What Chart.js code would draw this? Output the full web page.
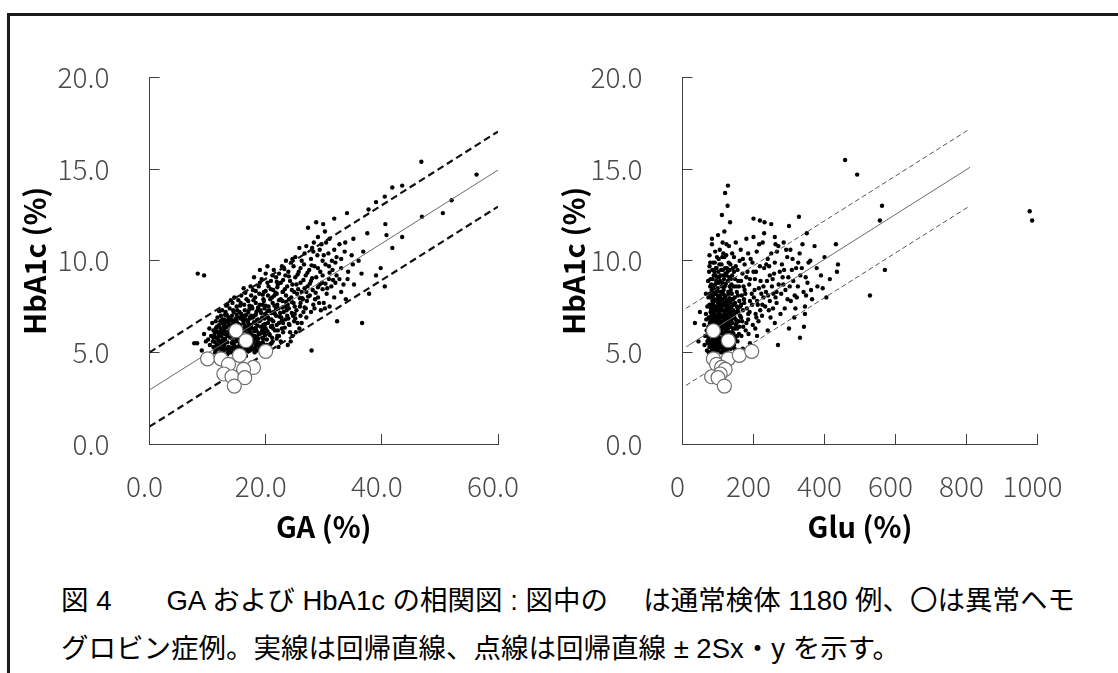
<!DOCTYPE html>
<html>
<head>
<meta charset="utf-8">
<script src="https://cdn.jsdelivr.net/npm/chart.js@4.4.1/dist/chart.umd.min.js"></script>
<style>
    body {
        margin: 0;
        width: 1118px;
        height: 673px;
        background: #fff;
        overflow: hidden;
        position: relative;
        font-family: "Liberation Sans", "Noto Sans CJK JP", sans-serif;
    }
    .frame {
        position: absolute;
        left: 7px;
        top: 13px;
        width: 1130px;
        height: 680px;
        border-top: 3px solid #1a1a1a;
        border-left: 3px solid #1a1a1a;
    }
    .chart-box {
        position: absolute;
        top: 0;
        height: 560px;
    }
    #leftBox { left: 0; width: 560px; }
    #rightBox { left: 530px; width: 588px; }
    .caption {
        position: absolute;
        left: 61px;
        font-size: 27.5px;
        line-height: 1;
        color: #000;
        white-space: pre;
    }
</style>
</head>
<body>
<div class="frame"></div>
<div class="chart-box" id="leftBox"><canvas id="gaChart"></canvas></div>
<div class="chart-box" id="rightBox"><canvas id="gluChart"></canvas></div>
<div class="caption" style="top:587px;">図 4　　GA および HbA1c の相関図 : 図中の　 は通常検体 1180 例、〇は異常ヘモ</div>
<div class="caption" style="top:635px;">グロビン症例。実線は回帰直線、点線は回帰直線 ± 2Sx・y を示す。</div>

<script>
// normal samples: [GA, HbA1c]
const normalGA = [
    [11.3,5.0],[12.1,4.9],[12.8,5.1],[13.4,4.9],[14.0,5.0],[14.7,5.1],[15.3,4.9],[16.0,5.0],[16.6,4.8],[17.3,5.1],[18.1,5.0],[19.0,5.2],[20.4,5.1],[22.2,5.3],[27.9,5.1],
    [10.4,5.4],[11.0,5.3],[11.7,5.4],[12.3,5.2],[12.9,5.4],[13.6,5.3],[14.2,5.5],[14.9,5.3],[15.5,5.4],[16.2,5.3],[16.9,5.5],[17.6,5.4],[18.3,5.3],[19.1,5.5],[19.8,5.4],[21.0,5.5],[23.8,5.4],
    [10.1,5.7],[10.9,5.6],[11.5,5.8],[12.1,5.6],[12.6,5.7],[13.2,5.6],[13.9,5.8],[14.5,5.6],[15.1,5.7],[15.8,5.6],[16.5,5.8],[17.1,5.6],[17.8,5.7],[18.6,5.6],[19.4,5.8],[20.2,5.7],[21.1,5.8],[22.0,5.9],[24.6,5.9],
    [9.4,6.0],[10.6,5.9],[11.2,6.0],[11.8,6.1],[12.4,5.9],[13.0,6.0],[13.6,6.1],[14.3,5.9],[14.9,6.0],[15.5,6.1],[16.1,5.9],[16.8,6.0],[17.4,6.1],[18.1,5.9],[18.9,6.0],[19.7,6.1],[20.6,6.0],[21.6,6.2],[23.0,6.1],[25.8,6.3],
    [10.3,6.3],[11.0,6.2],[11.6,6.4],[12.2,6.3],[12.8,6.2],[13.3,6.4],[14.0,6.3],[14.6,6.2],[15.2,6.4],[15.9,6.3],[16.4,6.2],[17.0,6.4],[17.7,6.3],[18.4,6.2],[19.2,6.4],[20.0,6.3],[20.9,6.4],[21.9,6.5],[22.8,6.3],[24.1,6.5],
    [10.8,6.6],[11.4,6.7],[12.0,6.5],[12.6,6.6],[13.2,6.7],[13.8,6.5],[14.4,6.6],[15.0,6.7],[15.6,6.5],[16.2,6.6],[16.9,6.7],[17.5,6.5],[18.2,6.6],[18.9,6.7],[19.6,6.5],[20.4,6.6],[21.3,6.7],[22.3,6.6],[23.4,6.8],[24.9,6.7],[26.2,6.6],[32.3,6.7],[36.6,6.6],
    [11.7,6.9],[12.3,7.0],[12.9,6.8],[13.6,6.9],[14.2,7.0],[14.8,6.8],[15.4,6.9],[16.0,7.0],[16.6,6.8],[17.3,6.9],[18.0,7.0],[18.7,6.8],[19.4,6.9],[20.2,7.0],[21.0,6.8],[21.8,7.0],[22.7,6.9],[23.7,7.0],[25.0,7.1],[27.0,6.9],
    [12.5,7.3],[13.1,7.2],[13.8,7.4],[14.5,7.2],[15.1,7.3],[15.8,7.1],[16.4,7.3],[17.0,7.2],[17.7,7.4],[18.4,7.2],[19.1,7.3],[19.9,7.1],[20.6,7.3],[21.4,7.2],[22.2,7.4],[23.1,7.2],[24.0,7.4],[25.3,7.3],[26.5,7.2],[28.4,7.4],[31.0,7.5],
    [13.4,7.6],[14.3,7.7],[15.0,7.5],[15.7,7.7],[16.3,7.6],[17.0,7.8],[17.6,7.5],[18.3,7.7],[19.0,7.6],[19.7,7.8],[20.5,7.5],[21.2,7.7],[22.0,7.6],[22.9,7.8],[23.8,7.6],[24.8,7.7],[25.9,7.5],[27.1,7.8],[29.2,7.7],
    [14.6,8.0],[15.8,8.1],[16.7,7.9],[17.5,8.1],[18.2,8.0],[18.9,8.2],[19.6,7.9],[20.4,8.1],[21.1,8.0],[21.9,8.2],[22.6,7.9],[23.5,8.1],[24.4,8.0],[25.4,8.2],[26.4,7.9],[27.6,8.1],[29.0,8.0],[30.5,8.2],[33.8,7.9],[37.8,8.2],
    [16.2,8.5],[17.8,8.4],[18.8,8.6],[19.7,8.3],[20.5,8.6],[21.3,8.4],[22.1,8.7],[22.9,8.3],[23.7,8.6],[24.5,8.4],[25.3,8.7],[26.2,8.3],[27.2,8.6],[28.1,8.4],[29.3,8.7],[30.6,8.5],[32.0,8.8],[35.2,8.7],[40.5,8.6],
    [19.3,9.0],[20.9,8.9],[21.8,9.1],[22.6,8.8],[23.4,9.2],[24.2,8.9],[25.1,9.1],[26.0,8.8],[26.9,9.2],[27.8,8.9],[28.7,9.1],[29.7,8.8],[30.9,9.0],[32.2,9.2],[34.1,9.0],[39.0,9.2],[20.0,9.3],
    [8.3,9.3],[9.4,9.2],[21.4,9.5],[22.8,9.7],[23.9,9.4],[24.8,9.7],[25.7,9.4],[26.6,9.8],[27.5,9.5],[28.4,9.7],[29.4,9.4],[30.3,9.8],[31.5,9.5],[33.0,9.6],[35.0,9.8],[36.5,9.3],
    [23.5,10.0],[25.1,10.2],[26.7,10.4],[27.8,10.1],[28.9,10.3],[29.8,10.0],[30.8,10.4],[32.2,10.2],[33.6,10.5],[36.8,10.5],[41.8,10.7],
    [27.0,10.8],[28.3,11.0],[29.6,10.9],[31.0,11.2],[32.7,10.9],[35.1,11.2],[37.5,11.5],[43.5,11.3],[40.8,11.4],[39.8,9.6],
    [27.3,11.8],[28.7,12.1],[29.9,12.0],[30.2,11.6],[31.8,12.3],[34.0,12.6],[37.7,12.8],[39.0,13.2],[40.6,12.0],[40.5,13.5],[41.8,14.0],[43.5,14.1],[46.8,15.4],[46.9,12.4],[50.5,12.6],[52.0,13.3],[56.3,14.7],
    [8.2,5.5],[9.0,5.1],[7.7,5.5],[9.7,5.6],
    [11.6,5.15],[12.6,5.05],[13.7,5.15],[14.8,5.05],[15.9,5.15],[17.0,5.05],[18.0,5.2],
    [11.3,5.55],[12.3,5.45],[13.4,5.55],[14.5,5.45],[15.6,5.55],[16.7,5.45],[17.8,5.55],[18.9,5.45],
    [11.9,5.85],[13.0,5.75],[14.1,5.85],[15.2,5.75],[16.3,5.85],[17.4,5.75],[18.5,5.85],[19.6,5.75],
    [11.5,6.15],[12.6,6.05],[13.7,6.15],[14.8,6.05],[15.9,6.15],[17.0,6.05],[18.1,6.15],[19.2,6.05],[20.3,6.15],
    [12.0,6.45],[13.1,6.35],[14.2,6.45],[15.3,6.35],[16.4,6.45],[17.5,6.35],[18.6,6.45],[19.8,6.35],
    [12.5,6.8],[13.7,6.75],[14.9,6.85],[16.1,6.75],[17.3,6.85],[18.5,6.75],[19.8,6.85],
    [13.3,7.05],[15.0,7.05],[16.7,7.05],[18.3,7.05],[20.0,7.55],[18.7,7.45],[17.2,7.55],
    [21.0,7.15],[22.5,7.15],[24.5,7.15],[26.0,7.0],[27.8,7.2],[29.5,7.3],
    [21.8,7.45],[23.4,7.5],[25.0,7.5],[26.7,7.45],[28.2,7.6],[30.2,7.4],
    [20.8,7.9],[22.3,7.85],[24.0,7.9],[25.9,7.95],[27.0,8.3],[28.5,7.9],[30.0,7.7],[31.8,8.0],
    [20.0,8.35],[21.7,8.25],[23.3,8.45],[24.9,8.3],[26.7,8.5],[28.6,8.25],[29.8,8.45],[31.3,8.6],[33.0,8.3],
    [20.3,8.8],[22.0,8.55],[23.0,8.95],[24.6,8.7],[26.5,8.95],[27.6,8.75],[29.0,8.55],[30.3,8.75],[31.6,8.95],[33.4,8.7],
    [21.2,9.2],[22.3,9.3],[24.0,9.15],[25.5,9.25],[27.2,9.35],[28.0,9.05],[29.8,9.2],[31.0,9.35],[32.7,9.0],
    [23.2,9.55],[24.4,9.9],[26.0,9.6],[27.9,9.75],[29.0,9.6],[30.9,9.7],[32.0,9.9],[34.2,9.4],
    [24.6,10.1],[26.2,10.0],[28.2,10.5],[29.3,10.6],[30.0,10.3],[31.4,10.0],[33.0,10.1],[34.8,10.3],
    [25.8,10.7],[28.0,10.7],[29.0,11.3],[30.4,11.0],[31.8,10.6],[33.7,11.0],[36.0,10.0],
    [11.0,5.8],[11.4,6.3],[11.9,5.3],[12.2,6.7],[12.7,5.3],[13.1,6.1],[13.5,5.0],[13.9,6.9],[14.3,5.6],[14.7,6.4],
    [15.1,5.1],[15.5,7.2],[15.8,5.8],[16.2,6.9],[16.6,5.2],[17.0,6.6],[17.4,5.3],[17.8,6.9],[18.2,5.7],[18.6,7.3],
    [19.0,5.3],[19.4,6.2],[19.8,7.4],[20.2,5.4],[20.6,6.8],[21.2,5.6],[21.6,7.1],[22.1,6.2],[22.6,5.6],[23.0,6.6],
    [23.6,7.3],[24.2,6.1],[24.7,7.0],[25.5,6.6],[26.0,7.7],[26.9,7.4],[24.3,5.6],[25.2,6.1],
    [11.2,5.2],[11.9,5.65],[12.4,6.15],[12.9,6.55],[13.4,5.9],[13.9,5.25],[14.2,6.75],[14.6,5.85],[15.0,6.25],[15.4,5.25],
    [15.7,6.85],[16.1,5.65],[16.5,6.3],[16.9,5.15],[17.2,7.35],[17.6,5.95],[18.0,6.65],[18.4,5.45],[18.8,6.05],[19.2,7.15],
    [19.5,5.55],[19.9,6.55],[20.3,7.25],[20.7,5.95],[21.1,6.45],[21.5,7.55],[21.9,5.75],[22.4,6.95],[22.9,7.45],[23.3,6.35],
    [23.9,6.85],[24.5,7.75],[25.1,6.85],[25.6,8.45],[26.3,7.95],[27.3,8.05],[12.0,7.25],[13.2,7.55],[14.0,7.85],[15.3,7.85],
    [16.5,8.25],[17.4,8.6],[18.3,8.35],[19.0,8.8],[20.9,8.45],[21.9,8.85],[18.0,9.1],[19.0,9.5],[20.3,9.7],[17.0,5.9],[14.4,5.3],[13.0,5.55],
    [11.5,5.35],[12.0,5.95],[12.5,5.55],[12.8,6.4],[13.3,5.2],[13.6,6.6],[14.0,6.05],[14.4,7.3],[14.9,5.6],[15.3,6.55],
    [15.7,5.35],[16.0,6.15],[16.4,7.0],[16.8,5.6],[17.1,6.25],[17.5,7.0],[17.9,5.15],[18.3,6.35],[18.7,5.75],[19.1,6.75],
    [19.5,7.6],[19.9,5.95],[20.4,6.9],[20.8,5.45],[21.3,6.3],[21.8,7.35],[22.3,5.9],[22.8,6.75],[23.5,7.75],[24.0,6.55],
    [12.3,5.0],[14.2,5.15],[16.3,5.05],[18.5,5.1],[13.0,7.05],[15.6,7.55],[17.9,7.85],[19.5,8.15],[21.5,8.1],[23.0,8.3]
];

// normal samples: [Glu, HbA1c]
const normalGlu = [
    [62,5.4],[64,5.9],[61,6.5],[66,7.1],[69,5.1],[70,5.6],[68,6.2],[67,6.8],[70,7.5],[66,8.2],
    [74,5.0],[76,5.3],[73,5.7],[78,6.0],[75,6.3],[77,6.6],[74,6.9],[79,7.2],[76,7.6],[73,8.0],[78,8.6],[75,9.4],
    [82,5.1],[85,5.4],[81,5.6],[86,5.9],[83,6.2],[87,6.4],[84,6.7],[81,7.0],[86,7.3],[83,7.6],[88,7.9],[82,8.4],[85,9.0],
    [91,5.0],[94,5.2],[90,5.5],[95,5.7],[92,6.0],[96,6.2],[89,6.5],[93,6.7],[97,7.0],[91,7.2],[95,7.5],[90,7.8],[94,8.2],[92,8.7],[96,9.6],
    [100,5.1],[104,5.3],[99,5.6],[103,5.8],[106,6.1],[101,6.3],[105,6.6],[98,6.8],[102,7.1],[106,7.4],[100,7.7],[104,8.0],[99,8.5],[103,9.1],
    [109,5.0],[113,5.2],[108,5.5],[112,5.7],[115,6.0],[110,6.2],[114,6.5],[107,6.7],[111,7.0],[115,7.3],[109,7.6],[113,7.9],[108,8.3],[112,8.8],[110,9.8],
    [118,5.1],[122,5.4],[117,5.6],[121,5.9],[124,6.1],[119,6.4],[123,6.6],[116,6.9],[120,7.1],[124,7.4],[118,7.7],[122,8.1],[119,8.6],[121,9.3],
    [127,5.0],[131,5.3],[126,5.6],[130,5.8],[133,6.1],[128,6.3],[132,6.6],[125,6.8],[129,7.1],[133,7.4],[127,7.8],[131,8.2],[128,8.9],[130,9.9],
    [136,5.2],[140,5.5],[135,5.8],[139,6.0],[142,6.3],[137,6.6],[141,6.9],[134,7.2],[138,7.5],[142,7.9],[136,8.4],[140,9.2],
    [145,5.4],[149,5.7],[144,6.0],[148,6.3],[152,6.6],[146,6.9],[150,7.2],[143,7.6],[147,8.0],[151,8.6],[145,9.4],
    [155,5.6],[159,6.0],[154,6.3],[158,6.7],[162,7.0],[156,7.4],[160,7.8],[153,8.3],[157,8.9],[161,10.0],
    [166,5.9],[171,6.4],[165,6.9],[170,7.3],[174,7.7],[167,8.1],[172,8.6],[169,9.3],[164,10.6],
    [178,6.2],[185,6.8],[181,7.4],[190,7.8],[177,8.2],[188,8.7],[183,9.4],[192,10.1],[186,6.0],
    [198,6.5],[206,7.1],[212,7.6],[201,8.0],[215,8.5],[204,9.0],[218,9.7],[209,10.5],[200,11.3],[214,6.7],
    [224,7.0],[233,7.5],[241,8.1],[228,8.6],[246,9.2],[236,9.8],[250,10.4],[226,11.0],[243,7.3],[231,12.1],[218,12.2],
    [255,7.4],[262,8.0],[271,8.7],[258,9.3],[280,9.8],[266,10.5],[290,8.4],[276,7.1],[298,9.1],[285,11.0],[295,10.2],
    [305,7.8],[312,8.9],[320,9.6],[330,10.4],[341,8.3],[350,11.5],[328,12.4],[315,6.9],[355,9.9],[345,7.5],
    [316,8.1],[348,8.1],[331,5.8],[345,7.1],[269,5.4],[49,7.2],[35,6.6],[45,5.6],
    [372,10.8],[390,9.2],[405,8.0],[432,10.9],[438,9.8],[435,9.4],[458,15.5],[492,14.7],[528,8.1],[556,12.2],[562,13.0],[570,9.5],[978,12.7],[985,12.2],
    [128,14.1],[120,13.7],[127,13.0],[111,12.5],[134,12.1],[118,11.6],[124,10.9],[105,10.6],[83,10.9],[83,11.2],[97,10.2],[140,10.4],[150,11.0],
    [150,4.8],[170,5.2],[190,5.5],[210,5.9],[240,6.2],[260,6.6],[300,6.3],
    [72,5.5],[77,6.1],[80,6.9],[84,7.8],[87,8.6],[90,5.2],[93,6.1],[96,7.3],[99,8.1],[102,8.8],
    [105,5.4],[108,6.4],[111,7.3],[114,8.2],[117,9.0],[120,5.3],[123,6.3],[126,7.3],[129,8.3],[132,9.1],
    [135,5.6],[138,6.8],[141,7.6],[144,8.6],[147,5.2],[150,6.5],[153,7.5],[156,8.1],[80,8.0],[88,8.3],
    [95,8.9],[101,9.4],[107,9.2],[114,9.5],[125,9.6],[135,9.8],[145,10.2],[118,10.2],[92,10.5],[100,11.4],[113,11.0],[86,9.9],[76,10.3],
    [85,5.25],[95,5.35],[105,5.25],[115,5.35],[125,5.25],[135,5.35],[85,5.75],[95,5.85],[105,5.75],[115,5.85],[125,5.75],[135,5.85],
    [85,6.3],[95,6.35],[105,6.3],[115,6.35],[125,6.45],[135,6.4],[85,6.85],[95,6.85],[105,6.9],[115,6.85],[125,6.95],[135,6.95],
    [85,7.45],[95,7.35],[105,7.55],[115,7.55],[125,7.55],[135,7.75],
    [165,7.6],[175,8.4],[180,9.1],[185,7.1],[195,8.2],[200,9.4],[205,6.3],[210,7.8],[220,8.9],[225,7.6],
    [230,9.6],[235,8.3],[240,10.1],[248,6.9],[252,8.6],[260,9.9],[265,7.7],[270,10.8],[278,8.2],[282,9.1],
    [288,7.4],[292,10.6],[302,8.6],[308,9.5],[318,7.4],[325,8.6],[332,9.2],[338,10.9],[342,6.4],[352,8.8],
    [360,10.0],[365,7.9],[380,8.6],[400,10.2],[415,9.0],[230,11.5],[260,11.3],[300,11.9],[180,11.2],[200,12.3],[250,12.0],
    [71,6.0],[73,6.4],[78,6.8],[80,7.4],[77,8.2],[79,9.0],[83,5.5],[88,5.7],[84,6.0],[89,6.9],
    [87,7.6],[91,8.4],[93,9.2],[97,5.4],[98,6.0],[94,6.5],[99,7.3],[97,7.9],[101,8.8],[104,5.55],
    [107,6.05],[103,6.45],[108,7.05],[105,7.85],[110,8.6],[111,5.3],[116,5.75],[112,6.35],[117,6.75],[113,7.55],
    [116,8.4],[120,5.75],[123,6.2],[119,6.9],[124,7.85],[122,8.75],[128,5.45],[132,5.95],[129,6.5],[134,7.0],
    [130,7.7],[133,8.6],[138,5.3],[141,6.1],[137,7.1],[143,7.3],[139,8.2],[146,5.8],[150,6.8],[148,7.7],
    [154,5.9],[157,7.2],[160,6.4],[163,7.5],[168,6.7],[173,7.9],[180,6.6],[189,7.2],[196,7.6],[203,8.4],
    [208,6.9],[219,7.3],[228,8.0],[238,8.9],[246,7.8],[254,9.0],[265,8.3],[274,9.4],[284,8.7],[296,7.9],
    [310,10.1],[322,8.0],[336,9.6],[90,9.4],[104,9.8],[124,9.2],[136,9.0],[78,9.9],[115,10.4],[131,10.8],
    [150,9.7],[170,10.1],[190,9.0],
    [74,5.85],[79,6.4],[82,7.25],[86,8.1],[89,6.15],[92,7.45],[96,6.55],[98,8.35],[101,5.9],[104,7.25],
    [107,8.1],[110,6.6],[113,5.45],[117,7.25],[119,8.0],[122,6.9],[126,5.9],[128,7.6],[131,6.8],[134,5.7],
    [137,7.9],[140,6.6],[143,5.6],[146,7.1],[81,5.35],[92,5.35],[112,5.05],[126,5.2],[80,6.55],[102,6.7],
    [121,6.15],[88,7.1],[110,7.8],[132,7.95],
    [72,8.9],[76,9.7],[81,8.7],[84,9.5],[88,9.2],[91,9.9],[94,9.6],[98,9.1],[102,10.1],[106,8.9],
    [109,9.5],[112,10.2],[116,9.2],[120,9.6],[123,10.3],[127,9.4],[133,9.5],[138,8.7],[142,9.6],[148,9.0],
    [155,9.5],[159,8.6],[165,8.9],[175,9.8],[185,10.4],[197,9.9],[207,9.4],[216,10.9],[222,8.2],[244,9.7],
    [256,8.2],[262,10.9],[286,9.5],[304,10.6],[326,9.9],[347,9.1],[362,8.4],[378,9.6],[395,8.5]
];

// abnormal hemoglobin cases
const abnormalHbA1c = [6.18, 5.64, 4.65, 4.65, 4.84, 5.06, 4.35, 4.18, 4.07, 3.82, 3.67, 3.62, 3.16];
const abnormalGA    = [14.9, 16.6, 10.0, 12.3, 15.5, 20.0, 13.6, 17.9, 16.2, 12.8, 14.2, 16.4, 14.6];
const abnormalGlu   = [87, 129, 87, 129, 160, 195, 96, 110, 120, 106, 82, 100, 118];

// regression line and +-2Sx.y
const gaLineX   = [0, 60];
const gaMid     = [2.95, 14.95];
const gaUpper   = [5.0, 17.05];
const gaLower   = [0.95, 12.95];
const gluLineX  = [10, 810];
const gluMid    = [5.3, 15.1];
const gluUpper  = [7.4, 17.2];
const gluLower  = [3.2, 13.0];

const tickFont = { family: '"Noto Sans CJK JP"', size: 28, weight: '300' };
const titleFont = { family: '"Noto Sans CJK JP"', size: 29, weight: 'bold' };
const axisColor = '#404040';

function pairs(list) {
    return list.map(p => ({ x: p[0], y: p[1] }));
}
function zipXY(xs, ys) {
    return xs.map((x, i) => ({ x: x, y: ys[i] }));
}
function lineSet(xs, ys, color, width, dash) {
    return {
        type: 'line',
        data: zipXY(xs, ys),
        borderColor: color,
        borderWidth: width,
        borderDash: dash,
        pointRadius: 0,
        fill: false
    };
}

function makeChart(id, opt) {
    new Chart(document.getElementById(id), {
        type: 'scatter',
        data: {
            datasets: [
                {
                    data: zipXY(opt.abX, abnormalHbA1c),
                    pointRadius: 7,
                    pointBackgroundColor: '#fff',
                    pointBorderColor: '#6e6e6e',
                    pointBorderWidth: 1.2
                },
                lineSet(opt.lineX, opt.upper, opt.dashColor, opt.dashWidth, opt.dash),
                lineSet(opt.lineX, opt.lower, opt.dashColor, opt.dashWidth, opt.dash),
                lineSet(opt.lineX, opt.mid, '#6a6a6a', 1, []),
                {
                    data: pairs(opt.points),
                    pointRadius: 2.2,
                    pointBackgroundColor: '#000',
                    pointBorderWidth: 0
                }
            ]
        },
        options: {
            responsive: true,
            maintainAspectRatio: false,
            animation: false,
            layout: {
                padding: { left: 0, top: 77.5, right: opt.padRight, bottom: 0 }
            },
            plugins: {
                legend: { display: false },
                tooltip: { enabled: false }
            },
            scales: {
                x: {
                    type: 'linear',
                    min: opt.xMin,
                    max: opt.xMax,
                    afterFit: s => { s.height = 116; },
                    border: { display: true, color: axisColor, width: 1 },
                    grid: {
                        drawOnChartArea: false,
                        drawTicks: true,
                        tickLength: -10,
                        tickColor: axisColor
                    },
                    ticks: {
                        stepSize: opt.xStep,
                        padding: 36,
                        labelOffset: -5,
                        color: '#4a4a4a',
                        font: tickFont,
                        maxRotation: 0,
                        callback: opt.xFormat
                    },
                    title: {
                        display: true,
                        text: opt.xTitle,
                        color: '#000',
                        font: titleFont,
                        padding: { top: 0, bottom: 16 }
                    }
                },
                y: {
                    type: 'linear',
                    min: 0,
                    max: 20,
                    afterFit: s => { s.width = opt.yWidth; },
                    border: { display: true, color: axisColor, width: 1 },
                    grid: {
                        drawOnChartArea: false,
                        drawTicks: true,
                        tickLength: -10,
                        tickColor: axisColor
                    },
                    ticks: {
                        stepSize: 5,
                        padding: 50,
                        color: '#4a4a4a',
                        font: tickFont,
                        callback: v => v.toFixed(1)
                    },
                    title: {
                        display: true,
                        text: 'HbA1c (%)',
                        color: '#000',
                        font: titleFont,
                        padding: { top: opt.yTitlePad, bottom: 0 }
                    }
                }
            }
        }
    });
}

makeChart('gaChart', {
    points: normalGA,
    abX: abnormalGA,
    lineX: gaLineX, mid: gaMid, upper: gaUpper, lower: gaLower,
    dashColor: '#111', dashWidth: 2.2, dash: [7, 4],
    xMin: 0, xMax: 60, xStep: 20,
    xFormat: v => v.toFixed(1),
    xTitle: 'GA (%)',
    yWidth: 149.5, padRight: 55.5, yTitlePad: 18
});

makeChart('gluChart', {
    points: normalGlu,
    abX: abnormalGlu,
    lineX: gluLineX, mid: gluMid, upper: gluUpper, lower: gluLower,
    dashColor: '#555', dashWidth: 1, dash: [5, 3],
    xMin: 0, xMax: 1000, xStep: 200,
    xFormat: v => String(v),
    xTitle: 'Glu (%)',
    yWidth: 152.5, padRight: 80.5, yTitlePad: 27
});
</script>
</body>
</html>
